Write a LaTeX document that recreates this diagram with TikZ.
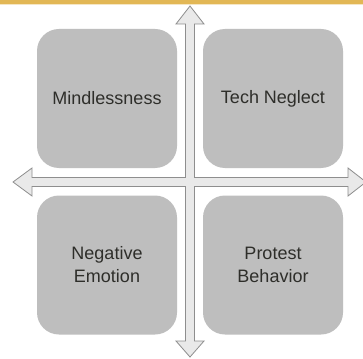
\documentclass[tikz,border=0pt]{standalone}
\usepackage{fontspec}
\setmainfont{Liberation Sans}
\definecolor{goldbar}{HTML}{E2B755}
\definecolor{boxfill}{HTML}{BEBEBE}
\definecolor{txt}{HTML}{2E2E2A}
\definecolor{arrowfill}{HTML}{E9E9E9}
\definecolor{arrowline}{HTML}{8E8E8E}
\begin{document}
\begin{tikzpicture}[x=1pt,y=-1pt,
  quad/.style={fill=boxfill, rounded corners=22pt, minimum width=140pt, minimum height=139pt,
    align=center, text=txt, font=\fontsize{18}{23}\selectfont, inner sep=0pt},
  crossarrow/.style={fill=arrowfill, draw=arrowline, line width=0.8pt, line join=miter}]
\useasboundingbox (0,0) rectangle (363,358);
\fill[white] (0,0) rectangle (363,358);
\fill[goldbar] (0,0) rectangle (363,4);
\fill[goldbar!35] (0,4) rectangle (363,5.5);
\node[quad] (mind) at (107,98.5) {Mindlessness};
\node[quad] (tech) at (273,98.5) {Tech Neglect};
\node[quad] (neg) at (107,265) {Negative\\Emotion};
\node[quad] (prot) at (273,265) {Protest\\Behavior};
\begin{scope}
\clip (0,0) rectangle (363,358);
\draw[crossarrow] (190,6) -- (204,24) -- (194.5,24) -- (194.5,177.5) -- (348,177.5) -- (348,168)
  -- (366,182) -- (348,196) -- (348,186.5) -- (194.5,186.5) -- (194.5,341) -- (204,341)
  -- (190,357) -- (176,341) -- (185.5,341) -- (185.5,186.5) -- (32,186.5) -- (32,196)
  -- (13,182) -- (32,168) -- (32,177.5) -- (185.5,177.5) -- (185.5,24) -- (176,24) -- cycle;
\end{scope}
\end{tikzpicture}
\end{document}
